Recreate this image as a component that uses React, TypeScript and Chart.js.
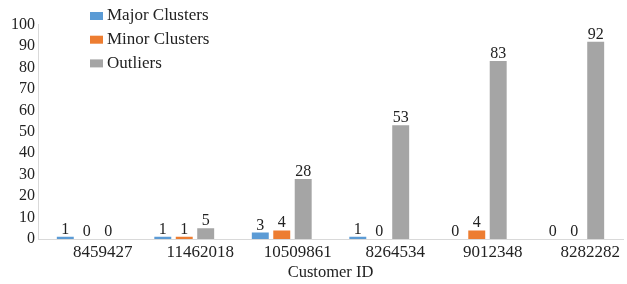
import React, { useEffect, useRef } from 'react';
import { Chart, registerables } from 'chart.js';

Chart.register(...registerables);

const categories = ['8459427', '11462018', '10509861', '8264534', '9012348', '8282282'];
const majorClusters = [1, 1, 3, 1, 0, 0];
const minorClusters = [0, 1, 4, 0, 4, 0];
const outliers = [0, 5, 28, 53, 83, 92];
const seriesNames = ['Major Clusters', 'Minor Clusters', 'Outliers'];
const seriesColors = ['#5B9BD5', '#ED7D31', '#A5A5A5'];
const yMin = 0;
const yMax = 100;
const yStep = 10;
const xTitle = 'Customer ID';

const FONT = '"Liberation Serif", "Times New Roman", serif';
const TEXT = '#222222';

const dataLabelPlugin = {
  id: 'dataLabels',
  afterDatasetsDraw(chart: any) {
    const ctx = chart.ctx;
    ctx.save();
    ctx.font = `16px ${FONT}`;
    ctx.fillStyle = TEXT;
    ctx.textAlign = 'center';
    ctx.textBaseline = 'alphabetic';
    chart.data.datasets.forEach((ds: any, i: number) => {
      const meta = chart.getDatasetMeta(i);
      meta.data.forEach((el: any, j: number) => {
        ctx.fillText(String(ds.data[j]), el.x, el.y - 3);
      });
    });
    ctx.restore();
  },
};

const legendPlugin = {
  id: 'insideLegend',
  afterDraw(chart: any) {
    const ctx = chart.ctx;
    ctx.save();
    ctx.font = `17px ${FONT}`;
    ctx.textBaseline = 'middle';
    ctx.textAlign = 'left';
    chart.data.datasets.forEach((ds: any, i: number) => {
      const cy = 16 + i * 23.7;
      ctx.fillStyle = ds.backgroundColor;
      ctx.fillRect(90, cy - 4, 13, 8);
      ctx.fillStyle = TEXT;
      ctx.fillText(ds.label, 107, cy);
    });
    ctx.restore();
  },
};

export default function App() {
  const ref = useRef<HTMLCanvasElement | null>(null);

  useEffect(() => {
    document.body.style.margin = '0';
    if (!ref.current) return;
    const values = [majorClusters, minorClusters, outliers];
    const chart = new Chart(ref.current, {
      type: 'bar',
      data: {
        labels: categories,
        datasets: seriesNames.map((name, i) => ({
          label: name,
          data: values[i],
          backgroundColor: seriesColors[i],
          borderWidth: 0,
          categoryPercentage: 0.66,
          barPercentage: 0.79,
        })),
      },
      options: {
        responsive: false,
        animation: false,
        layout: { padding: { top: 24.5, right: 4, bottom: 0, left: 0 } },
        plugins: {
          legend: { display: false },
          tooltip: { enabled: false },
        },
        scales: {
          x: {
            grid: { display: false, drawTicks: false },
            border: { display: true, color: '#D9D9D9' },
            ticks: {
              color: TEXT,
              font: { family: FONT, size: 17 },
              padding: 3,
              labelOffset: 16,
              maxRotation: 0,
              autoSkip: false,
            },
            title: {
              display: true,
              text: xTitle,
              color: TEXT,
              font: { family: FONT, size: 16.5 },
              padding: { top: 0, bottom: 1 },
            },
            afterFit: (s: any) => {
              s.height = 45;
            },
          },
          y: {
            min: yMin,
            max: yMax,
            grid: { display: false, drawTicks: false },
            border: { display: true, color: '#D9D9D9' },
            ticks: {
              stepSize: yStep,
              autoSkip: false,
              color: TEXT,
              font: { family: FONT, size: 16 },
              padding: 3,
            },
            afterFit: (s: any) => {
              s.width = 38;
            },
          },
        },
      },
      plugins: [dataLabelPlugin, legendPlugin],
    });
    return () => chart.destroy();
  }, []);

  return (
    <div style={{ width: 627, height: 284 }}>
      <canvas ref={ref} width={627} height={284} />
    </div>
  );
}
